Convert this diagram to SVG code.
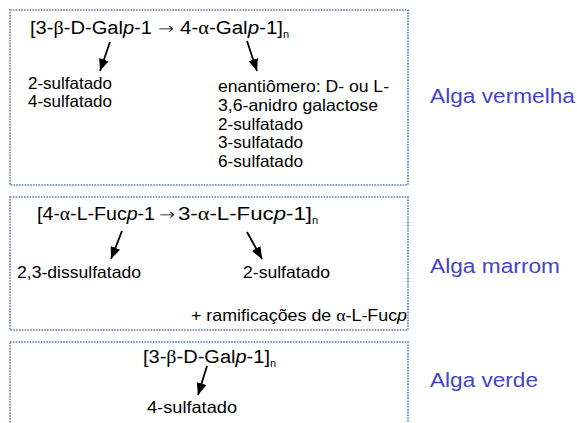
<svg xmlns="http://www.w3.org/2000/svg" width="577" height="423" viewBox="0 0 577 423">
<style>
.box{fill:none;stroke:#5f7ba5;stroke-width:1.6;stroke-dasharray:1.6 1.2}
.t{font-family:"Liberation Sans",Arial,sans-serif;font-size:16.5px;fill:#000}
.h{font-family:"Liberation Sans",Arial,sans-serif;font-size:18px;fill:#000}
.ar{font-family:"DejaVu Sans",sans-serif;font-size:16px;font-weight:200;fill:#000}
.sub{font-family:"Liberation Sans",Arial,sans-serif;font-size:11px;fill:#000}
.lab{font-family:"Liberation Sans",Arial,sans-serif;font-size:20.5px;fill:#4444c8}
.g{font-family:"Liberation Serif","Times New Roman",serif}
.i{font-style:italic}
.arr{stroke:#000;stroke-width:1.8;fill:none;marker-end:url(#ah)}
</style>
<defs>
<marker id="ah" viewBox="0 0 10 10" refX="10" refY="5" markerWidth="12" markerHeight="10" markerUnits="userSpaceOnUse" orient="auto" preserveAspectRatio="none">
<path d="M0,0 L10,5 L0,10 z" fill="#000"/>
</marker>
</defs>

<g id="red">
<rect class="box" x="10" y="10" width="398" height="175"/>
<text class="h" x="30" y="34" textLength="122" lengthAdjust="spacingAndGlyphs">[3-<tspan class="g">β</tspan>-D-Gal<tspan class="i">p</tspan>-1</text>
<text class="ar" x="158" y="34" textLength="16" lengthAdjust="spacingAndGlyphs">→</text>
<text class="h" x="180" y="34" textLength="103" lengthAdjust="spacingAndGlyphs">4-<tspan class="g">α</tspan>-Gal<tspan class="i">p</tspan>-1]</text>
<text class="sub" x="283" y="38">n</text>
<text class="t" x="28" y="89" textLength="84" lengthAdjust="spacingAndGlyphs">2-sulfatado</text>
<text class="t" x="28" y="107" textLength="84" lengthAdjust="spacingAndGlyphs">4-sulfatado</text>
<text class="t" x="218" y="92" textLength="171" lengthAdjust="spacingAndGlyphs">enantiômero: D- ou L-</text>
<text class="t" x="218" y="111" textLength="160" lengthAdjust="spacingAndGlyphs">3,6-anidro galactose</text>
<text class="t" x="218" y="130" textLength="85" lengthAdjust="spacingAndGlyphs">2-sulfatado</text>
<text class="t" x="218" y="148" textLength="85" lengthAdjust="spacingAndGlyphs">3-sulfatado</text>
<text class="t" x="218" y="167" textLength="85" lengthAdjust="spacingAndGlyphs">6-sulfatado</text>
</g>

<g id="brown">
<rect class="box" x="10" y="197" width="398" height="133"/>
<text class="h" x="37" y="220" textLength="118" lengthAdjust="spacingAndGlyphs">[4-<tspan class="g">α</tspan>-L-Fuc<tspan class="i">p</tspan>-1</text>
<text class="ar" x="159" y="220" textLength="16" lengthAdjust="spacingAndGlyphs">→</text>
<text class="h" x="178" y="220" textLength="134" lengthAdjust="spacingAndGlyphs">3-<tspan class="g">α</tspan>-L-Fuc<tspan class="i">p</tspan>-1]</text>
<text class="sub" x="312" y="224">n</text>
<text class="t" x="17" y="278" textLength="124" lengthAdjust="spacingAndGlyphs">2,3-dissulfatado</text>
<text class="t" x="243" y="278" textLength="87" lengthAdjust="spacingAndGlyphs">2-sulfatado</text>
<text class="t" x="191" y="321" textLength="216" lengthAdjust="spacingAndGlyphs">+ ramificações de <tspan class="g">α</tspan>-L-Fuc<tspan class="i">p</tspan></text>
</g>

<g id="green">
<rect class="box" x="10" y="342" width="398" height="100"/>
<text class="h" x="143" y="363" textLength="127" lengthAdjust="spacingAndGlyphs">[3-<tspan class="g">β</tspan>-D-Gal<tspan class="i">p</tspan>-1]</text>
<text class="sub" x="270" y="367">n</text>
<text class="t" x="147" y="413" textLength="90" lengthAdjust="spacingAndGlyphs">4-sulfatado</text>
</g>

<g id="labels">
<text class="lab" x="430" y="103" textLength="145" lengthAdjust="spacingAndGlyphs">Alga vermelha</text>
<text class="lab" x="430" y="273" textLength="130" lengthAdjust="spacingAndGlyphs">Alga marrom</text>
<text class="lab" x="430" y="387" textLength="108" lengthAdjust="spacingAndGlyphs">Alga verde</text>
</g>

<g id="connectors">
<line class="arr" x1="110" y1="42" x2="100" y2="71"/>
<line class="arr" x1="247" y1="41" x2="257" y2="71"/>
<line class="arr" x1="122" y1="231" x2="111" y2="259"/>
<line class="arr" x1="247" y1="232" x2="262" y2="259"/>
<line class="arr" x1="207" y1="366" x2="198" y2="395"/>
</g>
</svg>
